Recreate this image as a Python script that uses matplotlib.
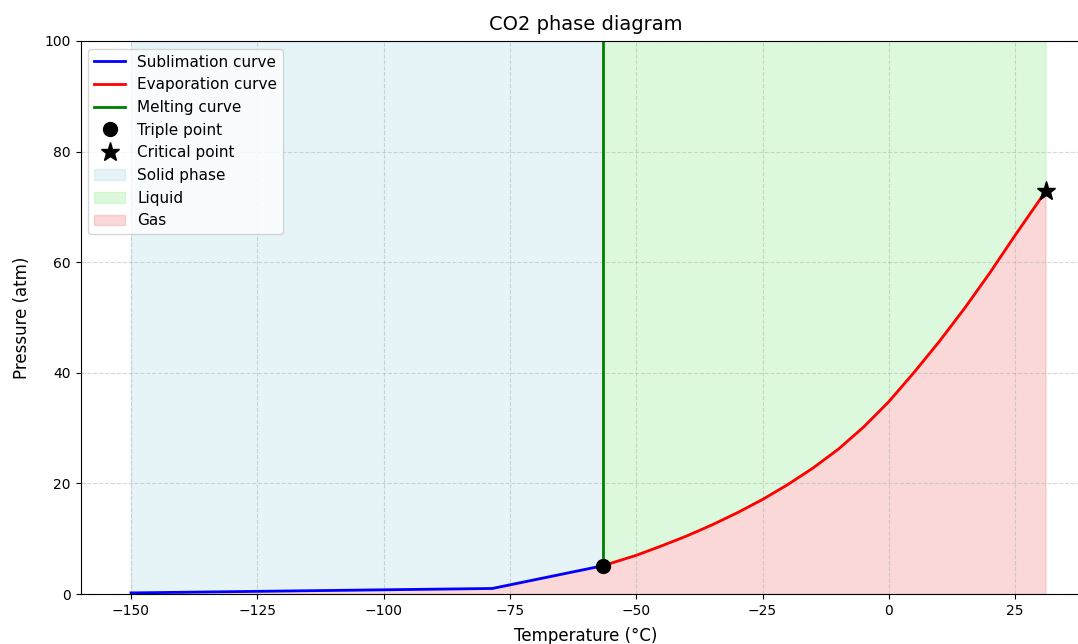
import numpy as np
import matplotlib
matplotlib.use("Agg")
import matplotlib.pyplot as plt

# sublimation curve (solid <-> gas)
subl_temp = [-150, -78.5, -56.6]
subl_pres = [0.2, 1.0, 5.11]

# evaporation curve (liquid <-> gas)
evap_temp = [-56.6, -50, -45, -40, -35, -30, -25, -20, -15, -10, -5,
             0, 5, 10, 15, 20, 25, 31]
evap_pres = [5.11, 7.0, 8.7, 10.5, 12.5, 14.7, 17.1, 19.8, 22.8, 26.2, 30.2,
             34.8, 40.1, 45.7, 51.7, 58.1, 64.9, 72.8]

# melting curve (solid <-> liquid)
melt_temp = [-56.6, -56.6]
melt_pres = [5.11, 100]

triple_point = (-56.6, 5.11)
critical_point = (31.0, 72.8)


def main():
    fig = plt.figure(figsize=(10.78, 6.44), dpi=100)
    ax = fig.add_axes([80.5 / 1078, 50 / 644, (1091 - 80.5) / 1078, 553 / 644])

    ax.plot(subl_temp, subl_pres, color="blue", lw=2, label="Sublimation curve")
    ax.plot(evap_temp, evap_pres, color="red", lw=2, label="Evaporation curve")
    ax.plot(melt_temp, melt_pres, color="green", lw=2, label="Melting curve")
    ax.plot(*triple_point, "o", color="black", ms=10, label="Triple point", zorder=5)
    ax.plot(*critical_point, "*", color="black", ms=14, label="Critical point", zorder=5)

    ax.fill_between(subl_temp, subl_pres, 100, color="lightblue", alpha=0.3,
                    label="Solid phase")
    ax.fill_between(evap_temp, evap_pres, 100, color="lightgreen", alpha=0.3,
                    label="Liquid")
    all_temp = subl_temp + evap_temp[1:]
    all_pres = subl_pres + evap_pres[1:]
    ax.fill_between(all_temp, 0, all_pres, color="lightcoral", alpha=0.3, label="Gas")

    ax.set_xlim(-160, 40)
    ax.set_ylim(0, 100)
    ax.set_xticks(np.arange(-150, 26, 25))
    ax.set_title("CO2 phase diagram", fontsize=14, pad=8)
    ax.set_xlabel("Temperature (°C)", fontsize=12, labelpad=7)
    ax.set_ylabel("Pressure (atm)", fontsize=12, labelpad=10)
    ax.grid(True, linestyle="--", alpha=0.5)
    ax.legend(loc="upper left", fontsize=11)

    fig.savefig("out.png", dpi=100)


if __name__ == '__main__':
    main()
